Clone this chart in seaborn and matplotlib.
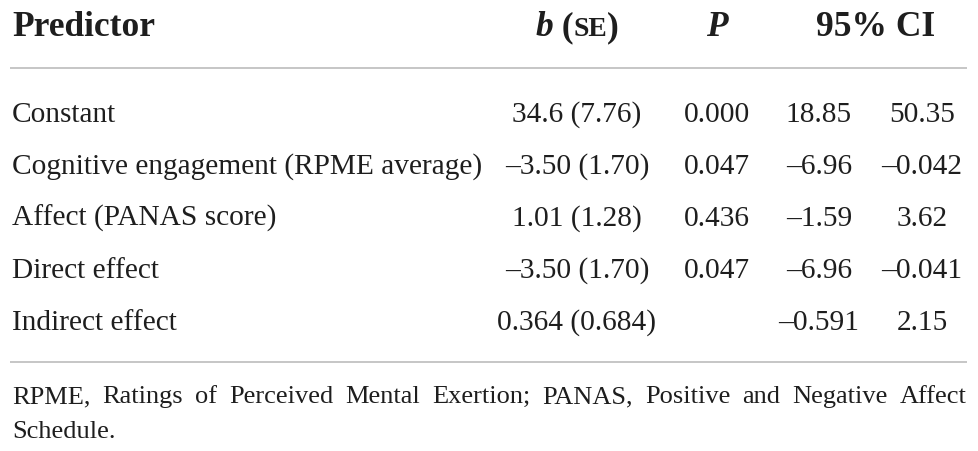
import matplotlib
matplotlib.use("Agg")
import matplotlib.pyplot as plt
import seaborn as sns

# table content
predictors = ["Constant", "Cognitive engagement (RPME average)", "Affect (PANAS score)",
              "Direct effect", "Indirect effect"]
b_se = ["34.6 (7.76)", "\u20133.50 (1.70)", "1.01 (1.28)", "\u20133.50 (1.70)", "0.364 (0.684)"]
p_vals = ["0.000", "0.047", "0.436", "0.047", ""]
ci_low = ["18.85", "\u20136.96", "\u20131.59", "\u20136.96", "\u20130.591"]
ci_high = ["50.35", "\u20130.042", "3.62", "\u20130.041", "2.15"]
footnote = ("RPME, Ratings of Perceived Mental Exertion; PANAS, Positive and Negative Affect "
            "Schedule.")

sns.set_theme(style="white")
plt.rcParams['font.family'] = ['Liberation Serif', 'DejaVu Serif']

W, H = 979, 451
fig = plt.figure(figsize=(W / 100, H / 100), dpi=100)
ax = fig.add_axes([0, 0, 1, 1])
ax.set_xlim(0, W)
ax.set_ylim(H, 0)
ax.axis('off')
renderer = fig.canvas.get_renderer()

ink = '#1e1e1e'
rule = '#bcbcbc'
body = 21.2
head = 25.5
foot = 19

def width_of(t):
    return t.get_window_extent(renderer).width

def pieces(parts, xc, y):
    # parts: list of (text, size, weight, style) drawn side by side, centred on xc
    arts = []
    for s, size, weight, style in parts:
        arts.append(ax.text(0, y, s, fontsize=size, fontweight=weight, fontstyle=style,
                            color=ink, va='baseline', ha='left'))
    total = sum(width_of(a) for a in arts)
    x = xc - total / 2
    for a in arts:
        a.set_x(x)
        x += width_of(a)

# header
hy = 36
ax.text(12, hy, "Predictor", fontsize=head, fontweight='bold', color=ink, va='baseline')
pieces([("b", head, 'bold', 'italic'), (" (", head, 'bold', 'normal'),
        ("SE", head * 0.78, 'bold', 'normal'), (")", head, 'bold', 'normal')], 577, hy)
pieces([("P", head, 'bold', 'italic')], 717, hy)
pieces([("95% CI", head, 'bold', 'normal')], 876, hy)

ax.plot([10, 967], [68, 68], color=rule, lw=1.2, solid_capstyle='butt')

# body rows
for i, name in enumerate(predictors):
    y = 122 + 52 * i
    ax.text(12, y, name, fontsize=body, color=ink, va='baseline')
    ax.text(577, y, b_se[i], fontsize=body, color=ink, va='baseline', ha='center')
    ax.text(717, y, p_vals[i], fontsize=body, color=ink, va='baseline', ha='center')
    ax.text(819, y, ci_low[i], fontsize=body, color=ink, va='baseline', ha='center')
    ax.text(922, y, ci_high[i], fontsize=body, color=ink, va='baseline', ha='center')

ax.plot([10, 967], [362, 362], color=rule, lw=1.2, solid_capstyle='butt')

# footnote, first line justified
words = footnote.split(" ")
line1, line2 = words[:-1], words[-1:]
arts = [ax.text(0, 403, w, fontsize=foot, color=ink, va='baseline') for w in line1]
widths = [width_of(a) for a in arts]
gap = (967 - 12 - sum(widths)) / (len(arts) - 1)
x = 12
for a, w in zip(arts, widths):
    a.set_x(x)
    x += w + gap
ax.text(12, 438, " ".join(line2), fontsize=foot, color=ink, va='baseline')

fig.savefig("out.png", dpi=100, facecolor='white')
